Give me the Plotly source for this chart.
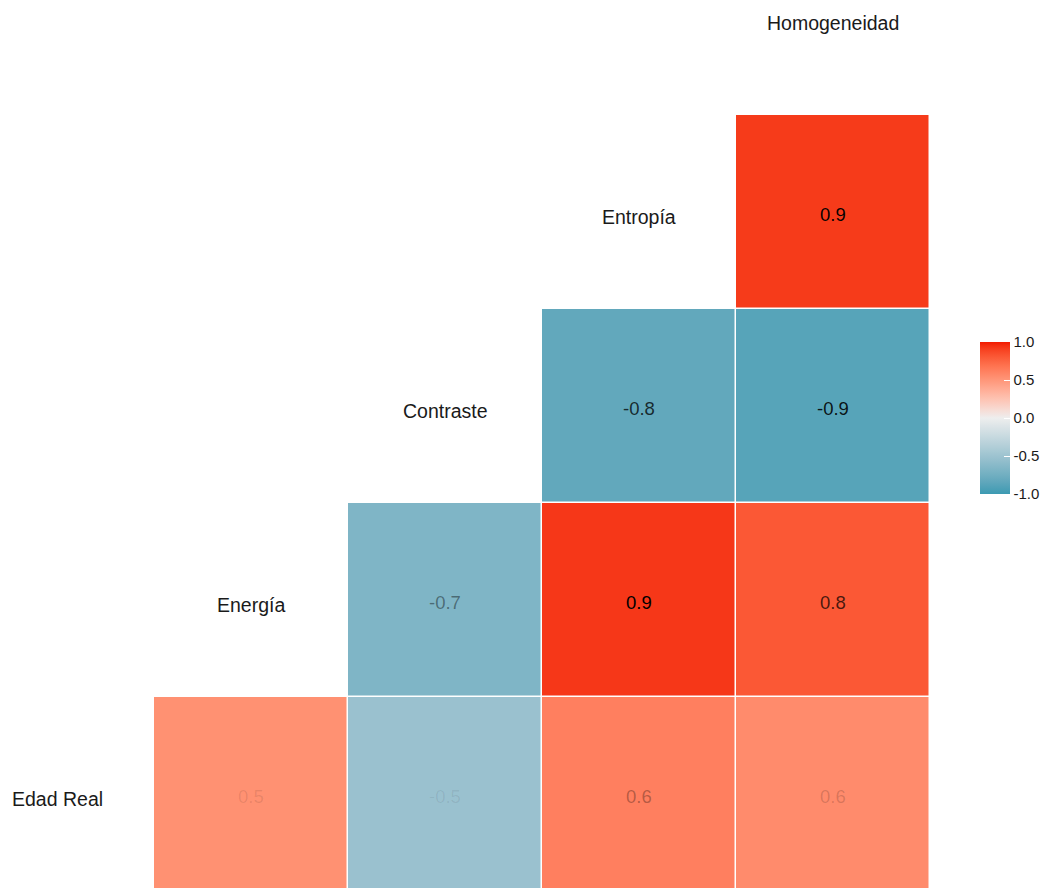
import plotly.graph_objects as go
import numpy as np

# ---- data ----
variables = ["Edad Real", "Energía", "Contraste", "Entropía", "Homogeneidad"]
# lower-triangle correlations: (row variable, column variable, value)
row_var = ["Edad Real", "Edad Real", "Edad Real", "Edad Real",
           "Energía", "Energía", "Energía",
           "Contraste", "Contraste",
           "Entropía"]
col_var = ["Energía", "Contraste", "Entropía", "Homogeneidad",
           "Contraste", "Entropía", "Homogeneidad",
           "Entropía", "Homogeneidad",
           "Homogeneidad"]
coef = [0.53, -0.52, 0.62, 0.56,
        -0.67, 0.93, 0.81,
        -0.83, -0.88,
        0.92]
legend_ticks = [-1.0, -0.5, 0.0, 0.5, 1.0]

# ---- colour scale (CIELAB interpolation like ggplot2 gradient2) ----
def hex2rgb(h):
    h = h.lstrip("#")
    return np.array([int(h[i:i + 2], 16) for i in (0, 2, 4)]) / 255.0

def srgb2lin(c):
    return np.where(c <= 0.04045, c / 12.92, ((c + 0.055) / 1.055) ** 2.4)

def lin2srgb(c):
    return np.where(c <= 0.0031308, 12.92 * c, 1.055 * np.power(np.clip(c, 0, None), 1 / 2.4) - 0.055)

M = np.array([[0.4124, 0.3576, 0.1805], [0.2126, 0.7152, 0.0722], [0.0193, 0.1192, 0.9505]])
Minv = np.linalg.inv(M)
WP = np.array([0.95047, 1.0, 1.08883])

def f(t):
    d = 6 / 29
    return np.where(t > d ** 3, np.cbrt(t), t / (3 * d * d) + 4 / 29)

def finv(t):
    d = 6 / 29
    return np.where(t > d, t ** 3, 3 * d * d * (t - 4 / 29))

def rgb2lab(rgb):
    xyz = M @ srgb2lin(rgb) / WP
    fx, fy, fz = f(xyz)
    return np.array([116 * fy - 16, 500 * (fx - fy), 200 * (fy - fz)])

def lab2rgb(lab):
    L, a, b = lab
    fy = (L + 16) / 116
    fx = fy + a / 500
    fz = fy - b / 200
    xyz = np.array([finv(fx), finv(fy), finv(fz)]) * WP
    return np.clip(lin2srgb(Minv @ xyz), 0, 1)

low, mid, high = rgb2lab(hex2rgb("#3B9AB2")), rgb2lab(hex2rgb("#EEEEEE")), rgb2lab(hex2rgb("#F21A00"))
colorscale = []
for t in np.linspace(0, 1, 41):
    if t <= 0.5:
        lab = low + (mid - low) * (t / 0.5)
    else:
        lab = mid + (high - mid) * ((t - 0.5) / 0.5)
    r, g, b = (lab2rgb(lab) * 255).round().astype(int)
    colorscale.append([float(t), f"rgb({r},{g},{b})"])

# ---- layout geometry (page has an 8px body margin) ----
W, H = 1042, 880
PLOT_W = 922          # plot area width (px)
CELL = 194            # px per cell
X0 = 49               # px of column 0 centre
Y0 = 786              # px of row 0 centre (from top)

# ---- build matrix ----
n = len(variables)
z = [[None] * n for _ in range(n)]
for rv, cv, v in zip(row_var, col_var, coef):
    z[variables.index(rv)][variables.index(cv)] = v

fig = go.Figure()
fig.add_trace(go.Heatmap(
    x=list(range(n)), y=list(range(n)), z=z,
    zmin=-1, zmax=1, colorscale=colorscale,
    xgap=1.5, ygap=1.5, hoverongaps=False,
    colorbar=dict(
        x=972 / PLOT_W, xanchor="left", y=1 - 410 / H, yanchor="middle",
        lenmode="pixels", len=152, thickness=30,
        outlinewidth=0, tickvals=legend_ticks,
        ticktext=[f"{t:.1f}" for t in legend_ticks],
        ticks="inside", ticklen=6, tickcolor="white", tickwidth=1,
        tickfont=dict(family="Liberation Sans, Arial", size=15, color="#1a1a1a"),
        xpad=0, ypad=0,
    ),
))

# coefficient labels with alpha by |r|
absv = np.abs(coef)
amin, amax = absv.min(), absv.max()
for rv, cv, v in zip(row_var, col_var, coef):
    a = 0.07 + 0.93 * (abs(v) - amin) / (amax - amin)
    fig.add_annotation(
        x=variables.index(cv), y=variables.index(rv), text=f"{v:.1f}",
        showarrow=False, yshift=-2.5,
        font=dict(family="Liberation Sans, Arial", size=18.5, color=f"rgba(0,0,0,{a:.3f})"),
    )

# diagonal variable names
for i, name in enumerate(variables):
    fig.add_annotation(
        x=i, y=i, text=name, showarrow=False, yshift=-4.5,
        font=dict(family="Liberation Sans, Arial", size=19.5, color="#1a1a1a"),
    )

fig.update_layout(
    width=W, height=H,
    margin=dict(l=0, r=W - PLOT_W, t=0, b=0),
    paper_bgcolor="white", plot_bgcolor="white",
    xaxis=dict(range=[-X0 / CELL, (PLOT_W - X0) / CELL], visible=False, fixedrange=True),
    yaxis=dict(range=[(Y0 - H) / CELL, Y0 / CELL], visible=False, fixedrange=True),
    showlegend=False,
)

fig.write_html("out.html")
